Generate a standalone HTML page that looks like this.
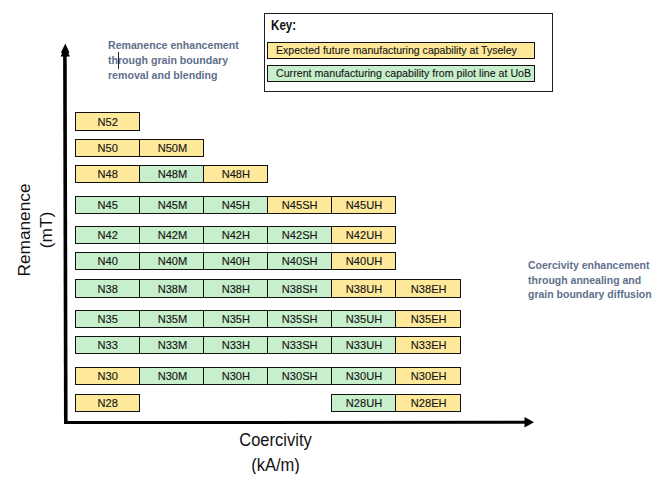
<!DOCTYPE html>
<html><head><meta charset="utf-8"><style>
html,body{margin:0;padding:0;background:#fff;}
body{width:662px;height:483px;position:relative;overflow:hidden;font-family:"Liberation Sans",sans-serif;}
.c{position:absolute;box-sizing:border-box;border:1px solid #111;font-size:11.6px;text-align:center;color:#161616;white-space:nowrap;}
.c span{display:inline-block;transform:scaleX(0.955);-webkit-text-stroke:0.15px #161616;position:relative;top:-0.5px;left:0.6px;}
.y{background:#fee99b;}
.g{background:#c7efcb;}
.ann{position:absolute;font-weight:bold;color:#61708b;font-size:10.6px;line-height:14.8px;white-space:nowrap;}
.key{position:absolute;left:264px;top:13px;width:289px;height:79px;box-sizing:border-box;border:1px solid #1e2020;}
.leg{position:absolute;box-sizing:border-box;left:267px;width:268px;height:17px;border:1px solid #111;font-size:11.2px;line-height:15px;color:#161616;white-space:nowrap;}
.leg span{position:absolute;left:7.6px;top:0;transform-origin:0 50%;-webkit-text-stroke:0.12px #161616;}
.lab{position:absolute;font-size:16.5px;color:#111;white-space:nowrap;text-align:center;}
</style></head><body>
<div class="key"></div>
<div style="position:absolute;left:270.7px;top:16.5px;font-size:14.5px;font-weight:bold;color:#111;line-height:16px;transform:scaleX(0.8);transform-origin:0 0">Key:</div>
<div class="leg y" style="top:42px"><span style="transform:scaleX(0.943)">Expected future manufacturing capability at Tyseley</span></div>
<div class="leg g" style="top:65px"><span style="transform:scaleX(0.952)">Current manufacturing capability from pilot line at UoB</span></div>
<div class="ann" style="left:108px;top:38.3px">Remanence enhancement<br>through grain boundary<br>removal and blending</div>
<div style="position:absolute;left:118px;top:52px;width:1px;height:17px;background:#222"></div>
<div class="ann" style="left:528px;top:258.2px;font-size:10.5px;line-height:14.5px">Coercivity enhancement<br>through annealing and<br>grain boundary diffusion</div>
<div style="position:absolute;left:139px;top:244px;width:1px;height:8px;background:#e6e6e6"></div><div style="position:absolute;left:203px;top:244px;width:1px;height:8px;background:#e6e6e6"></div><div style="position:absolute;left:267px;top:244px;width:1px;height:8px;background:#e6e6e6"></div><div style="position:absolute;left:331px;top:244px;width:1px;height:8px;background:#e6e6e6"></div>
<svg style="position:absolute;left:0;top:0" width="662" height="483">
<polygon points="63.1,55 66.7,55 67.6,424 64,424" fill="#000"/>
<polygon points="65.3,43.4 69.4,52.4 68.4,53.5 69.9,56.6 60.5,56.6 62,53.5 61,52.4" fill="#000"/>
<polygon points="64,421.1 526,420.7 526,423.8 64,424.1" fill="#000"/>
<polygon points="534,422.3 524.5,417 524.5,427.5" fill="#000"/>
</svg>
<div class="c y" style="left:75px;top:112px;width:65px;height:19px;line-height:17px"><span>N52</span></div>
<div class="c y" style="left:75px;top:139px;width:65px;height:18px;line-height:16px"><span>N50</span></div>
<div class="c y" style="left:139px;top:139px;width:65px;height:18px;line-height:16px"><span>N50M</span></div>
<div class="c y" style="left:75px;top:165px;width:65px;height:18px;line-height:16px"><span>N48</span></div>
<div class="c g" style="left:139px;top:165px;width:65px;height:18px;line-height:16px"><span>N48M</span></div>
<div class="c y" style="left:203px;top:165px;width:65px;height:18px;line-height:16px"><span>N48H</span></div>
<div class="c g" style="left:75px;top:196px;width:65px;height:18px;line-height:16px"><span>N45</span></div>
<div class="c g" style="left:139px;top:196px;width:65px;height:18px;line-height:16px"><span>N45M</span></div>
<div class="c g" style="left:203px;top:196px;width:65px;height:18px;line-height:16px"><span>N45H</span></div>
<div class="c y" style="left:267px;top:196px;width:65px;height:18px;line-height:16px"><span>N45SH</span></div>
<div class="c y" style="left:331px;top:196px;width:65px;height:18px;line-height:16px"><span>N45UH</span></div>
<div class="c g" style="left:75px;top:226px;width:65px;height:18px;line-height:16px"><span>N42</span></div>
<div class="c g" style="left:139px;top:226px;width:65px;height:18px;line-height:16px"><span>N42M</span></div>
<div class="c g" style="left:203px;top:226px;width:65px;height:18px;line-height:16px"><span>N42H</span></div>
<div class="c g" style="left:267px;top:226px;width:65px;height:18px;line-height:16px"><span>N42SH</span></div>
<div class="c y" style="left:331px;top:226px;width:65px;height:18px;line-height:16px"><span>N42UH</span></div>
<div class="c g" style="left:75px;top:252px;width:65px;height:18px;line-height:16px"><span>N40</span></div>
<div class="c g" style="left:139px;top:252px;width:65px;height:18px;line-height:16px"><span>N40M</span></div>
<div class="c g" style="left:203px;top:252px;width:65px;height:18px;line-height:16px"><span>N40H</span></div>
<div class="c g" style="left:267px;top:252px;width:65px;height:18px;line-height:16px"><span>N40SH</span></div>
<div class="c y" style="left:331px;top:252px;width:65px;height:18px;line-height:16px"><span>N40UH</span></div>
<div class="c g" style="left:75px;top:279px;width:65px;height:19px;line-height:17px"><span>N38</span></div>
<div class="c g" style="left:139px;top:279px;width:65px;height:19px;line-height:17px"><span>N38M</span></div>
<div class="c g" style="left:203px;top:279px;width:65px;height:19px;line-height:17px"><span>N38H</span></div>
<div class="c g" style="left:267px;top:279px;width:65px;height:19px;line-height:17px"><span>N38SH</span></div>
<div class="c y" style="left:331px;top:279px;width:65px;height:19px;line-height:17px"><span>N38UH</span></div>
<div class="c y" style="left:395px;top:279px;width:66px;height:19px;line-height:17px"><span>N38EH</span></div>
<div class="c g" style="left:75px;top:310px;width:65px;height:18px;line-height:16px"><span>N35</span></div>
<div class="c g" style="left:139px;top:310px;width:65px;height:18px;line-height:16px"><span>N35M</span></div>
<div class="c g" style="left:203px;top:310px;width:65px;height:18px;line-height:16px"><span>N35H</span></div>
<div class="c g" style="left:267px;top:310px;width:65px;height:18px;line-height:16px"><span>N35SH</span></div>
<div class="c g" style="left:331px;top:310px;width:65px;height:18px;line-height:16px"><span>N35UH</span></div>
<div class="c y" style="left:395px;top:310px;width:66px;height:18px;line-height:16px"><span>N35EH</span></div>
<div class="c g" style="left:75px;top:336px;width:65px;height:18px;line-height:16px"><span>N33</span></div>
<div class="c g" style="left:139px;top:336px;width:65px;height:18px;line-height:16px"><span>N33M</span></div>
<div class="c g" style="left:203px;top:336px;width:65px;height:18px;line-height:16px"><span>N33H</span></div>
<div class="c g" style="left:267px;top:336px;width:65px;height:18px;line-height:16px"><span>N33SH</span></div>
<div class="c g" style="left:331px;top:336px;width:65px;height:18px;line-height:16px"><span>N33UH</span></div>
<div class="c y" style="left:395px;top:336px;width:66px;height:18px;line-height:16px"><span>N33EH</span></div>
<div class="c y" style="left:75px;top:367px;width:65px;height:18px;line-height:16px"><span>N30</span></div>
<div class="c g" style="left:139px;top:367px;width:65px;height:18px;line-height:16px"><span>N30M</span></div>
<div class="c g" style="left:203px;top:367px;width:65px;height:18px;line-height:16px"><span>N30H</span></div>
<div class="c g" style="left:267px;top:367px;width:65px;height:18px;line-height:16px"><span>N30SH</span></div>
<div class="c g" style="left:331px;top:367px;width:65px;height:18px;line-height:16px"><span>N30UH</span></div>
<div class="c y" style="left:395px;top:367px;width:66px;height:18px;line-height:16px"><span>N30EH</span></div>
<div class="c y" style="left:75px;top:394px;width:65px;height:18px;line-height:16px"><span>N28</span></div>
<div class="c g" style="left:331px;top:394px;width:65px;height:18px;line-height:16px"><span>N28UH</span></div>
<div class="c y" style="left:395px;top:394px;width:66px;height:18px;line-height:16px"><span>N28EH</span></div>
<div class="lab" style="left:0;width:551px;top:428.8px;line-height:20px;transform:scaleY(1.09);transform-origin:50% 0">Coercivity</div>
<div class="lab" style="left:0;width:551px;top:453.2px;line-height:20px;transform:scaleY(1.1);transform-origin:50% 0">(kA/m)</div>
<div class="lab" style="left:-65px;top:208px;width:200px;line-height:22px;transform:rotate(-90deg);font-size:17.3px">Remanence<br>(mT)</div>
</body></html>
